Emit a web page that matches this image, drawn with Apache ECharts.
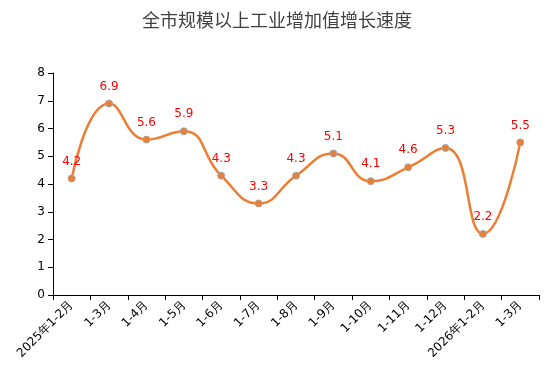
<!DOCTYPE html>
<html><head><meta charset="utf-8">
<script src="https://cdn.jsdelivr.net/npm/echarts@6/dist/echarts.min.js"></script>
<style>html,body{margin:0;padding:0;background:#fff}#c{width:554px;height:378px}</style>
</head><body><div id="c"></div>
<script>
var categories = ['2025年1-2月','1-3月','1-4月','1-5月','1-6月','1-7月','1-8月','1-9月','1-10月','1-11月','1-12月','2026年1-2月','1-3月'];
var values = [4.2,6.9,5.6,5.9,4.3,3.3,4.3,5.1,4.1,4.6,5.3,2.2,5.5];
var title = '全市规模以上工业增加值增长速度';
var chart = echarts.init(document.getElementById('c'));
chart.setOption({
  animation:false,
  title:{text:title,left:'center',top:6,textStyle:{fontFamily:'Noto Sans CJK SC',fontSize:18,fontWeight:'normal',color:'#404040'}},
  grid:{left:53,right:15,top:73,bottom:83},
  xAxis:{type:'category',data:categories,boundaryGap:true,
    axisLine:{lineStyle:{color:'#000',width:1}},
    axisTick:{show:true,alignWithLabel:false,length:5,lineStyle:{color:'#000'}},
    axisLabel:{rotate:45,interval:0,color:'#000',fontFamily:'DejaVu Sans',fontSize:12,margin:8}},
  yAxis:{type:'value',min:0,max:8,interval:1,
    axisLine:{show:true,lineStyle:{color:'#000',width:1}},
    axisTick:{show:true,length:5,lineStyle:{color:'#000'}},
    splitLine:{show:false},
    axisLabel:{color:'#000',fontFamily:'DejaVu Sans',fontSize:12,margin:8}},
  series:[{type:'line',data:values,smooth:0.5,symbol:'circle',symbolSize:7,
    lineStyle:{color:'#ed7d31',width:2.5},
    itemStyle:{color:'#ed7d31',borderColor:'#a5a5a5',borderWidth:1},
    label:{show:true,position:'top',distance:7,color:'#ff0000',fontFamily:'DejaVu Sans',fontSize:12}}]
});
</script></body></html>
